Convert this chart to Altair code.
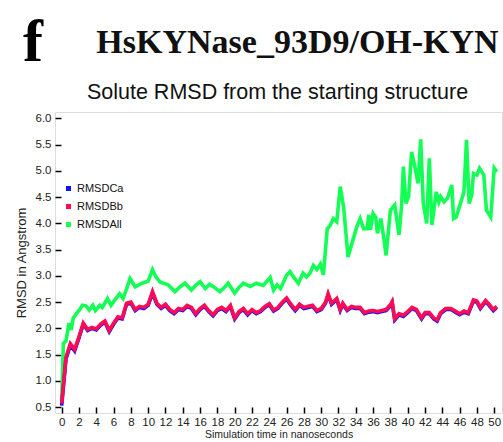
import altair as alt
import pandas as pd

# Backbone (Bb) and C-alpha (Ca) RMSD, sampled on a shared time axis (ns)
time_bb = [0.0, 0.5, 1.0, 1.5, 2.0, 2.5, 3.0, 3.5, 4.0, 4.5, 5.0, 5.5, 6.0, 6.5, 7.0, 7.5,
           8.0, 8.5, 9.0, 9.5, 10.0, 10.5, 11.0, 11.5, 12.0, 12.5, 13.0, 13.5, 14.0, 14.5,
           15.0, 15.5, 16.0, 16.5, 17.0, 17.5, 18.0, 18.5, 19.0, 19.5, 20.0, 20.5, 21.0,
           21.5, 22.0, 22.5, 23.0, 23.5, 24.0, 24.5, 25.0, 25.5, 26.0, 26.5, 27.0, 27.5,
           28.0, 28.5, 29.0, 29.5, 30.0, 30.5, 30.8, 31.2, 31.8, 32.2, 32.5, 33.0, 33.5,
           34.0, 34.5, 35.0, 35.5, 36.0, 36.5, 37.0, 37.5, 38.0, 38.2, 38.5, 39.0, 39.5,
           40.0, 40.5, 41.0, 41.6, 42.0, 42.5, 43.0, 43.4, 43.8, 44.4, 45.0, 45.5, 46.0,
           46.5, 47.0, 47.6, 48.0, 48.4, 49.0, 49.4, 49.9, 50.3]
rmsd_bb = [0.57, 1.45, 1.71, 1.60, 1.84, 2.10, 1.98, 2.02, 1.99, 2.08, 2.14, 1.96, 2.10, 2.22,
           2.20, 2.48, 2.50, 2.36, 2.42, 2.40, 2.46, 2.70, 2.48, 2.40, 2.46, 2.36, 2.30, 2.38,
           2.36, 2.44, 2.40, 2.28, 2.38, 2.44, 2.34, 2.26, 2.36, 2.40, 2.34, 2.44, 2.20, 2.32,
           2.38, 2.28, 2.36, 2.30, 2.34, 2.42, 2.47, 2.35, 2.40, 2.50, 2.58, 2.46, 2.36, 2.46,
           2.40, 2.42, 2.44, 2.34, 2.38, 2.50, 2.66, 2.48, 2.57, 2.36, 2.48, 2.36, 2.42, 2.40,
           2.40, 2.30, 2.33, 2.34, 2.32, 2.34, 2.36, 2.45, 2.51, 2.18, 2.28, 2.25, 2.32, 2.40,
           2.36, 2.20, 2.30, 2.30, 2.20, 2.16, 2.30, 2.38, 2.38, 2.33, 2.28, 2.33, 2.30, 2.54,
           2.52, 2.40, 2.53, 2.46, 2.36, 2.42]
rmsd_ca = [0.53, 1.42, 1.68, 1.57, 1.82, 2.08, 1.96, 2.00, 1.97, 2.06, 2.12, 1.94, 2.08, 2.20,
           2.18, 2.46, 2.48, 2.34, 2.40, 2.38, 2.44, 2.67, 2.46, 2.38, 2.44, 2.34, 2.28, 2.36,
           2.34, 2.42, 2.38, 2.26, 2.36, 2.42, 2.32, 2.24, 2.34, 2.38, 2.32, 2.42, 2.18, 2.30,
           2.36, 2.26, 2.34, 2.28, 2.32, 2.40, 2.45, 2.33, 2.38, 2.48, 2.56, 2.44, 2.34, 2.44,
           2.38, 2.40, 2.42, 2.32, 2.36, 2.48, 2.64, 2.46, 2.55, 2.34, 2.46, 2.34, 2.40, 2.38,
           2.38, 2.28, 2.31, 2.32, 2.30, 2.32, 2.34, 2.43, 2.49, 2.16, 2.26, 2.23, 2.30, 2.38,
           2.34, 2.18, 2.28, 2.28, 2.18, 2.14, 2.28, 2.36, 2.36, 2.31, 2.26, 2.31, 2.28, 2.52,
           2.50, 2.38, 2.51, 2.44, 2.34, 2.40]

# All-atom RMSD (ns, Angstrom)
time_all = [0.0, 0.2, 0.5, 0.85, 1.1, 1.35, 1.75, 2.1, 2.4, 2.8, 3.2, 3.6, 3.9, 4.4, 4.7, 5.3,
            5.7, 6.1, 6.7, 7.1, 7.5, 7.9, 8.5, 9.3, 10.0, 10.5, 10.9, 11.4, 12.3, 13.1, 13.6,
            14.25, 15.0, 15.5, 16.0, 16.6, 17.1, 17.5, 18.3, 18.8, 19.25, 20.0, 20.5, 21.0,
            21.8, 22.5, 23.3, 24.1, 24.5, 24.9, 25.3, 26.0, 26.4, 26.8, 27.35, 27.9, 28.3,
            28.7, 29.1, 29.5, 29.9, 30.25, 30.7, 31.0, 31.4, 31.8, 32.2, 32.6, 33.1, 33.7,
            34.1, 34.5, 34.9, 35.3, 35.5, 35.7, 36.0, 36.3, 36.5, 36.9, 37.3, 37.5, 38.0,
            38.5, 39.0, 39.3, 39.5, 39.8, 40.1, 40.45, 40.8, 41.2, 41.5, 41.8, 42.2, 42.5,
            42.8, 43.3, 43.6, 43.8, 44.2, 44.6, 45.1, 45.3, 45.6, 46.1, 46.5, 46.8, 47.1,
            47.4, 47.6, 48.0, 48.3, 48.8, 49.1, 49.6, 50.0, 50.3]
rmsd_all = [0.60, 1.72, 1.76, 2.10, 1.97, 2.20, 2.29, 2.36, 2.44, 2.43, 2.35, 2.44, 2.34, 2.44,
            2.40, 2.57, 2.44, 2.53, 2.66, 2.57, 2.75, 2.95, 2.79, 2.86, 2.90, 3.12, 2.98, 2.88,
            2.83, 2.70, 2.78, 2.86, 2.73, 2.82, 2.89, 2.76, 2.84, 2.80, 2.70, 2.78, 2.86, 2.67,
            2.78, 2.86, 2.80, 2.86, 2.82, 2.97, 2.73, 2.83, 2.76, 3.01, 3.08, 2.98, 2.86, 3.05,
            2.98, 3.05, 3.20, 3.12, 3.22, 3.02, 3.90, 3.95, 4.09, 4.03, 4.70, 4.30, 3.36, 3.70,
            3.93, 4.09, 3.90, 3.90, 4.16, 3.88, 4.19, 4.12, 3.81, 4.09, 3.65, 3.39, 4.25, 4.35,
            3.78, 4.35, 5.08, 4.38, 4.51, 5.36, 5.10, 4.76, 5.60, 4.38, 4.00, 5.24, 3.97, 4.60,
            4.41, 4.51, 4.41, 4.48, 4.73, 4.09, 4.12, 4.38, 4.60, 5.59, 4.38, 4.54, 4.95, 4.92,
            5.05, 4.92, 4.25, 4.12, 5.05, 4.98]

series_names = ["RMSDCa", "RMSDBb", "RMSDAll"]
series_colors = ["#1010ff", "#ff0a55", "#14ff55"]

x_ticks = list(range(0, 51, 2))
y_ticks = [0.5, 1.0, 1.5, 2.0, 2.5, 3.0, 3.5, 4.0, 4.5, 5.0, 5.5, 6.0]

panel_letter = "f"
main_title = "HsKYNase_93D9/OH-KYN"
sub_title = "Solute RMSD from the starting structure"

df = pd.concat([
    pd.DataFrame({"time": time_bb, "rmsd": rmsd_ca, "series": series_names[0]}),
    pd.DataFrame({"time": time_bb, "rmsd": rmsd_bb, "series": series_names[1]}),
    pd.DataFrame({"time": time_all, "rmsd": rmsd_all, "series": series_names[2]}),
])

SANS = "Liberation Sans"
SERIF = "Liberation Serif"

x_enc = alt.X(
    "time:Q",
    scale=alt.Scale(domain=[-0.77, 50.9], nice=False, zero=False),
    axis=alt.Axis(values=x_ticks, title="Simulation time in nanoseconds", domain=False,
                  grid=False, tickSize=6, tickWidth=1.5, tickColor="black", offset=-6,
                  labelPadding=3, labelFontSize=11.5, labelColor="#222", labelFont=SANS,
                  titleFont=SANS, titleFontSize=10.5, titleFontWeight="normal",
                  titleColor="#222", titlePadding=2),
)
y_enc = alt.Y(
    "rmsd:Q",
    scale=alt.Scale(domain=[0.39, 6.12], nice=False, zero=False),
    axis=alt.Axis(values=y_ticks, format=".1f", title="RMSD in Angstrom", domain=False,
                  grid=False, tickSize=6, tickWidth=1.5, tickColor="black", offset=-6,
                  labelPadding=4, labelFontSize=11.5, labelColor="#222", labelFont=SANS,
                  titleFont=SANS, titleFontSize=13, titleFontWeight="normal",
                  titleColor="#222", titlePadding=7),
)
color_enc = alt.Color(
    "series:N",
    scale=alt.Scale(domain=series_names, range=series_colors),
    legend=alt.Legend(title=None, orient="none", legendX=8, legendY=71, symbolType="square",
                      symbolSize=4, symbolStrokeWidth=3, labelFont=SANS, labelFontSize=11,
                      labelColor="#111", labelOffset=3, rowPadding=3, padding=0),
)

base = alt.Chart(df)
lines = [
    base.transform_filter(alt.datum.series == name)
    .mark_line(strokeWidth=3.6, clip=True, interpolate="linear")
    .encode(x=x_enc, y=y_enc, color=color_enc)
    for name in [series_names[2], series_names[0], series_names[1]]
]

letter = alt.Chart(pd.DataFrame({"t": [panel_letter]})).mark_text(
    font=SERIF, fontWeight="bold", fontSize=60, align="center", baseline="alphabetic",
    color="black"
).encode(text="t:N", x=alt.value(-22), y=alt.value(-51))

head = alt.Chart(pd.DataFrame({"t": [main_title]})).mark_text(
    font=SERIF, fontWeight="bold", fontSize=34, align="center", baseline="alphabetic",
    color="#111"
).encode(text="t:N", x=alt.value(242.5), y=alt.value(-59))

sub = alt.Chart(pd.DataFrame({"t": [sub_title]})).mark_text(
    font=SANS, fontSize=21.5, align="center", baseline="alphabetic", color="#111"
).encode(text="t:N", x=alt.value(222.5), y=alt.value(-13))

chart = alt.layer(*lines, letter, head, sub).properties(
    width=447, height=301,
    autosize=alt.AutoSizeParams(type="none"),
    padding={"left": 55, "top": 112, "right": 1, "bottom": 29},
).configure_view(stroke="black", strokeWidth=2).configure(background="white")

chart.save("out.html", embed_options={"renderer": "svg", "actions": False})
